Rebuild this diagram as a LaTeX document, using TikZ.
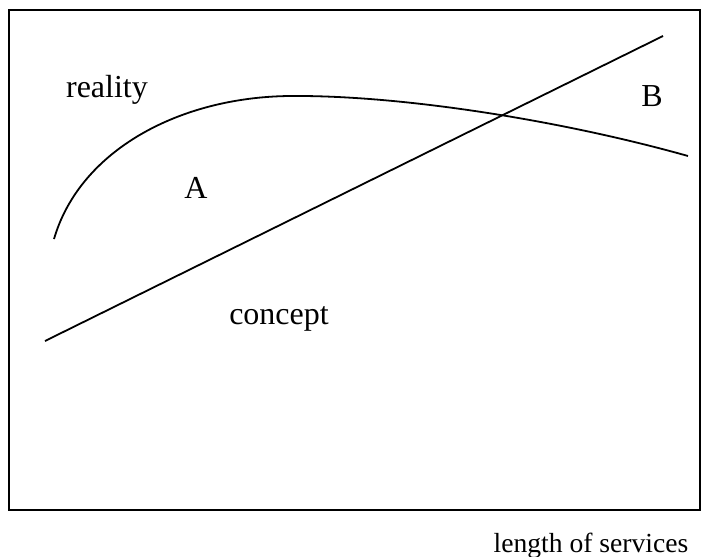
\documentclass[tikz,border=0pt]{standalone}
\usepackage{fontspec}
\setmainfont{Liberation Serif}
\usetikzlibrary{positioning}

\begin{document}
\begin{tikzpicture}[
  x=0.5pt, y=-0.5pt,
  lbl/.style={inner sep=0pt, font=\fontsize{16}{19}\selectfont},
  axl/.style={inner sep=0pt, anchor=base, font=\fontsize{13.8}{17}\selectfont},
  trace/.style={line width=0.9pt},
  frame/.style={line width=1pt}
]
  \useasboundingbox (0,0) rectangle (702,557);
  \draw[frame] (9,10) rectangle (700,510);

  \coordinate (cs) at (45,341);
  \coordinate (ce) at (663,36);
  \coordinate (rs) at (54,239);
  \coordinate (rp) at (290,96);
  \coordinate (re) at (688,156);

  \draw[trace] (cs) -- (ce);
  \draw[trace] (rs) .. controls (80,150) and (180,97) .. (rp)
                    .. controls (400,95) and (560,120) .. (re);

  \node[lbl] (reality) at (107,90)  {reality};
  \node[lbl] (regA)    at (196,188) {A};
  \node[lbl] (regB)    at (652,96)  {B};
  \node[lbl] (concept) at (279,319) {concept};
  \node[axl] (axis)    at (591,552) {length of services};
\end{tikzpicture}
\end{document}
